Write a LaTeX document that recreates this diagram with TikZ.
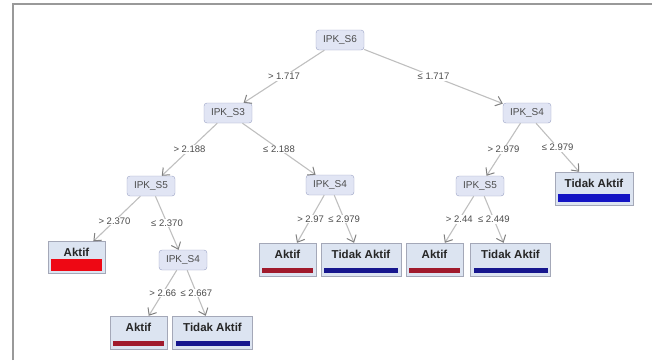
\documentclass[tikz,border=0pt]{standalone}
\usepackage{fontspec}
\setmainfont{Liberation Sans}
\usetikzlibrary{arrows.meta,calc}

\definecolor{splitfill}{HTML}{E1E5F4}
\definecolor{splitline}{HTML}{9AA2C4}
\definecolor{leaffill}{HTML}{DCE4F1}
\definecolor{leafline}{HTML}{A4A8B8}
\definecolor{aktifbar}{HTML}{A01A2C}
\definecolor{tidakbar}{HTML}{16168E}
\definecolor{aktifbright}{HTML}{EE0814}
\definecolor{tidakbright}{HTML}{1414C4}

\tikzset{
  split/.style={draw=splitline, fill=splitfill, rounded corners=3pt, minimum width=48pt,
    minimum height=20pt, inner sep=2pt, text=black!70, font=\fontsize{10}{12}\selectfont},
  leaf/.style args={#1/#2}{draw=leafline, fill=leaffill, inner xsep=3pt, inner ysep=3pt,
    text height=12pt, text depth=15pt, text=black!85, font=\bfseries\fontsize{11.5}{13}\selectfont,
    path picture={\fill[#1] ([shift={(3pt,3pt)}]path picture bounding box.south west)
      rectangle ([shift={(-3pt,3pt+#2)}]path picture bounding box.south east);}},
  aktif/.style={leaf=aktifbar/5pt, minimum width=57pt},
  tidak/.style={leaf=tidakbar/5pt, minimum width=80pt},
  edge/.style={draw=black!25, line width=1.1pt,
    -{Straight Barb[length=6pt,width=10pt,line width=1pt,color=black!50]}},
  cond/.style={fill=white, inner sep=1pt, text=black!70, font=\fontsize{9.5}{11}\selectfont},
  frame/.style={draw=black!40, line width=1.8pt}
}

\begin{document}
\begin{tikzpicture}[x=1pt,y=-1pt]
    \useasboundingbox (0,0) rectangle (652,360);

    %coordinates
    \coordinate (pS6)  at (340,40);
    \coordinate (pS3)  at (228,113);
    \coordinate (pS4r) at (527,113);
    \coordinate (pS5l) at (151,186);
    \coordinate (pS4m) at (330,185);
    \coordinate (pS5r) at (480,186);
    \coordinate (pS4l) at (183,260);

    %frame
    \coordinate (fa) at (13,360);
    \coordinate (fb) at (13,4);
    \coordinate (fc) at (652,4);
    \draw[frame] (fa) -- (fb) -- (fc);

    %nodes
    \node[split] (S6)  at (pS6)  {IPK\_S6};
    \node[split] (S3)  at (pS3)  {IPK\_S3};
    \node[split] (S4r) at (pS4r) {IPK\_S4};
    \node[split] (S5l) at (pS5l) {IPK\_S5};
    \node[split] (S4m) at (pS4m) {IPK\_S4};
    \node[split] (S5r) at (pS5r) {IPK\_S5};
    \node[split] (S4l) at (pS4l) {IPK\_S4};

    \node[leaf=tidakbright/8pt, minimum width=78pt] (T1) at (594,188.5) {Tidak Aktif};
    \node[leaf=aktifbright/12pt, minimum width=57pt, text depth=14pt] (A1) at (76.5,257.5) {Aktif};
    \node[aktif] (A2) at (287.5,259.5) {Aktif};
    \node[tidak] (T2) at (361,259.5)   {Tidak Aktif};
    \node[aktif] (A3) at (434.5,259.5) {Aktif};
    \node[tidak] (T3) at (510.5,259.5) {Tidak Aktif};
    \node[aktif] (A4) at (138.5,332.5) {Aktif};
    \node[tidak] (T4) at (212.5,332.5) {Tidak Aktif};

    %edges
    \draw[edge] (S6) -- node[cond]{> 1.717} (S3);
    \draw[edge] (S6) -- node[cond]{≤ 1.717} (S4r);
    \draw[edge] (S3) -- node[cond]{> 2.188} (S5l);
    \draw[edge] (S3) -- node[cond]{≤ 2.188} (S4m);
    \draw[edge] (S4r) -- node[cond]{> 2.979} (S5r);
    \draw[edge] (S4r) -- node[cond]{≤ 2.979} (T1);
    \draw[edge] (S5l) -- node[cond, pos=0.55]{> 2.370} (A1);
    \draw[edge] (S5l) -- node[cond]{≤ 2.370} (S4l);
    \draw[edge] (S4m) -- node[cond]{> 2.97} (A2);
    \draw[edge] (S4m) -- node[cond]{≤ 2.979} (T2);
    \draw[edge] (S5r) -- node[cond]{> 2.44} (A3);
    \draw[edge] (S5r) -- node[cond]{≤ 2.449} (T3);
    \draw[edge] (S4l) -- node[cond]{> 2.66} (A4);
    \draw[edge] (S4l) -- node[cond]{≤ 2.667} (T4);
\end{tikzpicture}
\end{document}
